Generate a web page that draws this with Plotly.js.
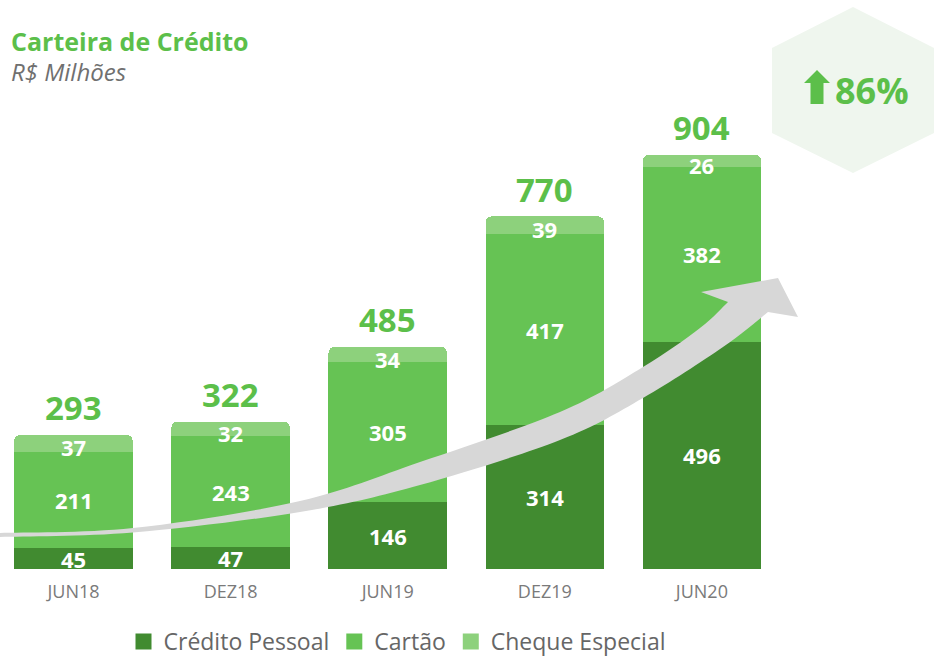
<!DOCTYPE html>
<html>
<head>
<meta charset="utf-8">
<script src="https://cdn.plot.ly/plotly-3.0.1.min.js"></script>
<style>html,body{margin:0;padding:0;background:#fff;}#chart{width:934px;height:663px;}</style>
</head>
<body>
<div id="chart"></div>
<script>
// ---- data ----
const categories = ['JUN18', 'DEZ18', 'JUN19', 'DEZ19', 'JUN20'];
const creditoPessoal = [45, 47, 146, 314, 496];
const cartao = [211, 243, 305, 417, 382];
const chequeEspecial = [37, 32, 34, 39, 26];
const seriesNames = ['Crédito Pessoal', 'Cartão', 'Cheque Especial'];
const growthLabel = '86%';

// ---- styles ----
const W = 934, H = 663;
const baselinePx = 569;          // pixel row of the bars' base
const pxPerUnit = 0.458;         // vertical scale
const FONT = 'Open Sans, Noto Sans, sans-serif';
const colors = ['#418b30', '#66c354', '#8dd17c'];
const green = '#5cbf4a';

const totals = categories.map((c, i) => creditoPessoal[i] + cartao[i] + chequeEspecial[i]);
const stacks = [creditoPessoal, cartao, chequeEspecial];

const traces = stacks.map((vals, k) => ({
  type: 'bar', x: categories, y: vals, name: seriesNames[k], legendgroup: 'g' + k,
  marker: {color: colors[k], line: {width: 0}},
  showlegend: false, hoverinfo: 'skip'
}));
// legend entries (square swatches)
stacks.forEach((vals, k) => traces.push({
  type: 'scatter', mode: 'markers', x: [null], y: [null], name: seriesNames[k], legendgroup: 'g' + k,
  marker: {symbol: 'square', size: 16, color: colors[k]}, showlegend: true, hoverinfo: 'skip'
}));

// pixel -> paper helpers for decorations (plot area == full canvas)
const px = x => x / W;
const py = y => (H - y) / H;

function smoothPath(pts) {
  const P = pts.map(p => [px(p[0]), py(p[1])]);
  let d = 'M' + P[0][0] + ',' + P[0][1];
  for (let i = 0; i < P.length - 1; i++) {
    const p0 = P[i - 1] || P[i], p1 = P[i], p2 = P[i + 1], p3 = P[i + 2] || P[i + 1];
    const c1 = [p1[0] + (p2[0] - p0[0]) / 6, p1[1] + (p2[1] - p0[1]) / 6];
    const c2 = [p2[0] - (p3[0] - p1[0]) / 6, p2[1] - (p3[1] - p1[1]) / 6];
    d += ' C' + c1[0] + ',' + c1[1] + ' ' + c2[0] + ',' + c2[1] + ' ' + p2[0] + ',' + p2[1];
  }
  return d;
}
function polyPath(pts) {
  return pts.map((p, i) => (i ? 'L' : 'M') + px(p[0]) + ',' + py(p[1])).join(' ') + ' Z';
}

const upper = [[0,533],[133,528],[300,501],[420,462],[560,412],[643,367],[700,328],[728,302]];
const head = [[701,292],[778,278],[798,317],[768,312]];
const lower = [[768,312],[723,347],[643,398],[560,440],[420,485],[300,512],[133,532.5],[0,537]];
let arrowD = smoothPath(upper);
head.forEach(p => { arrowD += ' L' + px(p[0]) + ',' + py(p[1]); });
arrowD += ' ' + smoothPath(lower).replace(/^M/, 'L') + ' Z';

const hexagon = [[853,7],[934,48],[934,133],[853,173],[772,133],[772,48]];
const upIcon = [[817,70],[830,83],[823.5,83],[823.5,104],[810.5,104],[810.5,83],[804,83]];

const shapes = [
  {type: 'path', xref: 'paper', yref: 'paper', path: arrowD, fillcolor: '#d7d7d7', line: {width: 0}, layer: 'above'},
  {type: 'path', xref: 'paper', yref: 'paper', path: polyPath(hexagon), fillcolor: '#eff6ee', line: {width: 0}, layer: 'below'},
  {type: 'path', xref: 'paper', yref: 'paper', path: polyPath(upIcon), fillcolor: green, line: {width: 0}, layer: 'above'}
];

const annotations = [];
categories.forEach((c, i) => {
  let base = 0;
  stacks.forEach((vals, k) => {
    annotations.push({
      x: c, y: base + vals[i] / 2, xref: 'x', yref: 'y', text: String(vals[i]),
      showarrow: false, yshift: k === 2 ? -4 : 0,
      font: {family: FONT, size: 22, color: '#ffffff', weight: 700}
    });
    base += vals[i];
  });
  annotations.push({
    x: c, y: totals[i], xref: 'x', yref: 'y', text: String(totals[i]),
    showarrow: false, yanchor: 'middle', yshift: 27,
    font: {family: FONT, size: 33, color: green, weight: 700}
  });
});
annotations.push(
  {x: px(9), y: py(41), xref: 'paper', yref: 'paper', xanchor: 'left', yanchor: 'middle',
   text: '<b>Carteira de Crédito</b>', showarrow: false, font: {family: FONT, size: 25, color: green}},
  {x: px(9), y: py(72), xref: 'paper', yref: 'paper', xanchor: 'left', yanchor: 'middle',
   text: '<i>R$ Milhões</i>', showarrow: false, font: {family: FONT, size: 24, color: '#707070'}},
  {x: px(872), y: py(91), xref: 'paper', yref: 'paper', xanchor: 'center', yanchor: 'middle',
   text: '<b>' + growthLabel + '</b>', showarrow: false, font: {family: FONT, size: 36, color: green}}
);

const slot = 157.1, firstCenter = 73.5;
const layout = {
  width: W, height: H,
  margin: {l: 0, r: 0, t: 0, b: 0, pad: 0, autoexpand: false},
  paper_bgcolor: '#ffffff', plot_bgcolor: 'rgba(0,0,0,0)',
  barmode: 'stack', bargap: 0.246,
  barcornerradius: 6,
  showlegend: true,
  legend: {orientation: 'h', x: px(397), xanchor: 'center', y: 0, yanchor: 'bottom',
           font: {family: FONT, size: 23, color: '#666666'}, itemwidth: 30, traceorder: 'normal',
           itemclick: false, itemdoubleclick: false, bgcolor: 'rgba(0,0,0,0)', borderwidth: 0},
  xaxis: {type: 'category', range: [-firstCenter / slot, -firstCenter / slot + W / slot],
          anchor: 'free', position: py(baselinePx), automargin: false,
          showgrid: false, zeroline: false, showline: false, ticks: '',
          tickfont: {family: FONT, size: 18, color: '#7a7a7a'}, ticklabelstandoff: 10, fixedrange: true},
  yaxis: {range: [-(H - baselinePx) / pxPerUnit, baselinePx / pxPerUnit], visible: false,
          showgrid: false, zeroline: false, fixedrange: true},
  shapes: shapes,
  annotations: annotations,
  font: {family: FONT}
};

Plotly.newPlot('chart', traces, layout, {displayModeBar: false, staticPlot: true});
</script>
</body>
</html>
